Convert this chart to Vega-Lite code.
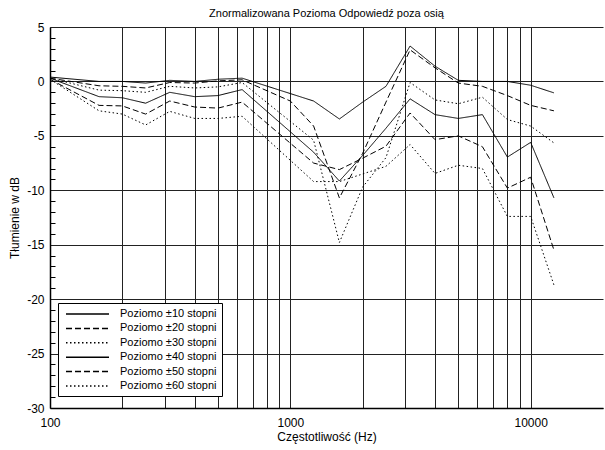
{
  "$schema": "https://vega.github.io/schema/vega-lite/v6.json",
  "autosize": {"type": "none"},
  "padding": {"left": 50, "top": 27, "right": 2, "bottom": 42},
  "width": 553,
  "height": 381,
  "background": "white",
  "view": {"stroke": null},
  "config": {
    "font": "Liberation Sans",
    "axis": {"labelColor": "black", "titleColor": "black", "labelFont": "Liberation Sans", "titleFont": "Liberation Sans", "titleFontWeight": "normal"}
  },
  "title": {"text": "Znormalizowana Pozioma Odpowiedź poza osią", "fontSize": 11, "fontWeight": "normal", "font": "Liberation Sans", "color": "black", "anchor": "middle", "offset": 2},
  "data": {"values": [
    {"f": 100, "s": "Poziomo ±10 stopni", "db": 0.4},
    {"f": 160, "s": "Poziomo ±10 stopni", "db": 0},
    {"f": 200, "s": "Poziomo ±10 stopni", "db": 0},
    {"f": 250, "s": "Poziomo ±10 stopni", "db": -0.15},
    {"f": 315, "s": "Poziomo ±10 stopni", "db": 0.1},
    {"f": 400, "s": "Poziomo ±10 stopni", "db": 0},
    {"f": 500, "s": "Poziomo ±10 stopni", "db": 0.2},
    {"f": 630, "s": "Poziomo ±10 stopni", "db": 0.3},
    {"f": 1250, "s": "Poziomo ±10 stopni", "db": -1.8},
    {"f": 1600, "s": "Poziomo ±10 stopni", "db": -3.45},
    {"f": 2000, "s": "Poziomo ±10 stopni", "db": -1.9},
    {"f": 2500, "s": "Poziomo ±10 stopni", "db": -0.45},
    {"f": 3150, "s": "Poziomo ±10 stopni", "db": 3.25},
    {"f": 4000, "s": "Poziomo ±10 stopni", "db": 1.4},
    {"f": 5000, "s": "Poziomo ±10 stopni", "db": 0.1},
    {"f": 6300, "s": "Poziomo ±10 stopni", "db": 0},
    {"f": 8000, "s": "Poziomo ±10 stopni", "db": 0},
    {"f": 10000, "s": "Poziomo ±10 stopni", "db": -0.35},
    {"f": 12500, "s": "Poziomo ±10 stopni", "db": -1.05},

    {"f": 100, "s": "Poziomo ±20 stopni", "db": 0.3},
    {"f": 160, "s": "Poziomo ±20 stopni", "db": -0.4},
    {"f": 200, "s": "Poziomo ±20 stopni", "db": -0.45},
    {"f": 250, "s": "Poziomo ±20 stopni", "db": -0.6},
    {"f": 315, "s": "Poziomo ±20 stopni", "db": -0.1},
    {"f": 400, "s": "Poziomo ±20 stopni", "db": -0.15},
    {"f": 500, "s": "Poziomo ±20 stopni", "db": 0.05},
    {"f": 630, "s": "Poziomo ±20 stopni", "db": 0.15},
    {"f": 1000, "s": "Poziomo ±20 stopni", "db": -1.8},
    {"f": 1250, "s": "Poziomo ±20 stopni", "db": -4.1},
    {"f": 1600, "s": "Poziomo ±20 stopni", "db": -10.7},
    {"f": 2000, "s": "Poziomo ±20 stopni", "db": -6.6},
    {"f": 2500, "s": "Poziomo ±20 stopni", "db": -1.9},
    {"f": 3150, "s": "Poziomo ±20 stopni", "db": 2.9},
    {"f": 4000, "s": "Poziomo ±20 stopni", "db": 1.25},
    {"f": 5000, "s": "Poziomo ±20 stopni", "db": -0.15},
    {"f": 6300, "s": "Poziomo ±20 stopni", "db": -0.45},
    {"f": 8000, "s": "Poziomo ±20 stopni", "db": -1.3},
    {"f": 10000, "s": "Poziomo ±20 stopni", "db": -2.2},
    {"f": 12500, "s": "Poziomo ±20 stopni", "db": -2.7},

    {"f": 100, "s": "Poziomo ±30 stopni", "db": 0.3},
    {"f": 160, "s": "Poziomo ±30 stopni", "db": -0.8},
    {"f": 200, "s": "Poziomo ±30 stopni", "db": -0.85},
    {"f": 250, "s": "Poziomo ±30 stopni", "db": -1.0},
    {"f": 315, "s": "Poziomo ±30 stopni", "db": -0.45},
    {"f": 400, "s": "Poziomo ±30 stopni", "db": -0.6},
    {"f": 500, "s": "Poziomo ±30 stopni", "db": -0.5},
    {"f": 630, "s": "Poziomo ±30 stopni", "db": -0.1},
    {"f": 1250, "s": "Poziomo ±30 stopni", "db": -5.4},
    {"f": 1600, "s": "Poziomo ±30 stopni", "db": -14.8},
    {"f": 2000, "s": "Poziomo ±30 stopni", "db": -9.7},
    {"f": 2500, "s": "Poziomo ±30 stopni", "db": -7.0},
    {"f": 3150, "s": "Poziomo ±30 stopni", "db": -0.1},
    {"f": 4000, "s": "Poziomo ±30 stopni", "db": -1.7},
    {"f": 5000, "s": "Poziomo ±30 stopni", "db": -2.05},
    {"f": 6300, "s": "Poziomo ±30 stopni", "db": -1.45},
    {"f": 8000, "s": "Poziomo ±30 stopni", "db": -3.5},
    {"f": 10000, "s": "Poziomo ±30 stopni", "db": -4.1},
    {"f": 12500, "s": "Poziomo ±30 stopni", "db": -5.65},

    {"f": 100, "s": "Poziomo ±40 stopni", "db": 0.3},
    {"f": 160, "s": "Poziomo ±40 stopni", "db": -1.4},
    {"f": 200, "s": "Poziomo ±40 stopni", "db": -1.5},
    {"f": 250, "s": "Poziomo ±40 stopni", "db": -2.0},
    {"f": 315, "s": "Poziomo ±40 stopni", "db": -1.0},
    {"f": 400, "s": "Poziomo ±40 stopni", "db": -1.4},
    {"f": 500, "s": "Poziomo ±40 stopni", "db": -1.3},
    {"f": 630, "s": "Poziomo ±40 stopni", "db": -0.75},
    {"f": 1250, "s": "Poziomo ±40 stopni", "db": -6.5},
    {"f": 1600, "s": "Poziomo ±40 stopni", "db": -9.15},
    {"f": 2000, "s": "Poziomo ±40 stopni", "db": -6.8},
    {"f": 2500, "s": "Poziomo ±40 stopni", "db": -4.3},
    {"f": 3150, "s": "Poziomo ±40 stopni", "db": -1.6},
    {"f": 4000, "s": "Poziomo ±40 stopni", "db": -3.05},
    {"f": 5000, "s": "Poziomo ±40 stopni", "db": -3.4},
    {"f": 6300, "s": "Poziomo ±40 stopni", "db": -3.05},
    {"f": 8000, "s": "Poziomo ±40 stopni", "db": -6.95},
    {"f": 10000, "s": "Poziomo ±40 stopni", "db": -5.6},
    {"f": 12500, "s": "Poziomo ±40 stopni", "db": -10.7},

    {"f": 100, "s": "Poziomo ±50 stopni", "db": 0.2},
    {"f": 160, "s": "Poziomo ±50 stopni", "db": -2.2},
    {"f": 200, "s": "Poziomo ±50 stopni", "db": -2.25},
    {"f": 250, "s": "Poziomo ±50 stopni", "db": -3.0},
    {"f": 315, "s": "Poziomo ±50 stopni", "db": -1.8},
    {"f": 400, "s": "Poziomo ±50 stopni", "db": -2.35},
    {"f": 500, "s": "Poziomo ±50 stopni", "db": -2.45},
    {"f": 630, "s": "Poziomo ±50 stopni", "db": -1.9},
    {"f": 1250, "s": "Poziomo ±50 stopni", "db": -7.5},
    {"f": 1600, "s": "Poziomo ±50 stopni", "db": -8.1},
    {"f": 2000, "s": "Poziomo ±50 stopni", "db": -7.05},
    {"f": 2500, "s": "Poziomo ±50 stopni", "db": -5.95},
    {"f": 3150, "s": "Poziomo ±50 stopni", "db": -2.9},
    {"f": 4000, "s": "Poziomo ±50 stopni", "db": -5.35},
    {"f": 5000, "s": "Poziomo ±50 stopni", "db": -5.0},
    {"f": 6300, "s": "Poziomo ±50 stopni", "db": -6.0},
    {"f": 8000, "s": "Poziomo ±50 stopni", "db": -9.8},
    {"f": 10000, "s": "Poziomo ±50 stopni", "db": -8.8},
    {"f": 12500, "s": "Poziomo ±50 stopni", "db": -15.5},

    {"f": 100, "s": "Poziomo ±60 stopni", "db": 0.2},
    {"f": 160, "s": "Poziomo ±60 stopni", "db": -2.7},
    {"f": 200, "s": "Poziomo ±60 stopni", "db": -3.0},
    {"f": 250, "s": "Poziomo ±60 stopni", "db": -4.0},
    {"f": 315, "s": "Poziomo ±60 stopni", "db": -2.75},
    {"f": 400, "s": "Poziomo ±60 stopni", "db": -3.4},
    {"f": 500, "s": "Poziomo ±60 stopni", "db": -3.4},
    {"f": 630, "s": "Poziomo ±60 stopni", "db": -3.2},
    {"f": 1250, "s": "Poziomo ±60 stopni", "db": -9.2},
    {"f": 1600, "s": "Poziomo ±60 stopni", "db": -9.2},
    {"f": 2000, "s": "Poziomo ±60 stopni", "db": -8.5},
    {"f": 2500, "s": "Poziomo ±60 stopni", "db": -7.8},
    {"f": 3150, "s": "Poziomo ±60 stopni", "db": -5.8},
    {"f": 4000, "s": "Poziomo ±60 stopni", "db": -8.45},
    {"f": 5000, "s": "Poziomo ±60 stopni", "db": -7.7},
    {"f": 6300, "s": "Poziomo ±60 stopni", "db": -8.0},
    {"f": 8000, "s": "Poziomo ±60 stopni", "db": -12.4},
    {"f": 10000, "s": "Poziomo ±60 stopni", "db": -12.4},
    {"f": 12500, "s": "Poziomo ±60 stopni", "db": -18.7}
  ]},
  "resolve": {"axis": {"y": "independent"}},
  "layer": [
    {
      "mark": {"type": "line", "stroke": "black", "strokeWidth": 1, "clip": true},
      "encoding": {
        "x": {"field": "f", "type": "quantitative",
          "scale": {"type": "log", "domain": [100, 20000], "nice": false},
          "axis": {"values": [100,200,300,400,500,600,700,800,900,1000,2000,3000,4000,5000,6000,7000,8000,9000,10000],
            "labelExpr": "(datum.value == 100 || datum.value == 1000 || datum.value == 10000) ? '' + datum.value : ''",
            "grid": true, "gridColor": "#222", "gridWidth": 1, "gridOpacity": 1,
            "ticks": false, "domainColor": "black", "domainWidth": 1.5,
            "labelFontSize": 12, "labelPadding": 9, "labelFlush": false, "labelOverlap": false,
            "title": "Częstotliwość (Hz)", "titleFontSize": 12, "titlePadding": 3}},
        "y": {"field": "db", "type": "quantitative",
          "scale": {"domain": [-30, 5], "nice": false, "zero": false},
          "axis": {"values": [-30,-25,-20,-15,-10,-5,0,5],
            "labelExpr": "'' + datum.value",
            "grid": true, "gridColor": "#222", "gridWidth": 1, "gridOpacity": 1,
            "ticks": false, "domainColor": "black", "domainWidth": 1.5,
            "labelFontSize": 12, "labelPadding": 6,
            "title": "Tłumienie w dB", "titleFontSize": 12, "titlePadding": 5}},
        "strokeDash": {"field": "s", "type": "nominal",
          "scale": {"domain": ["Poziomo ±10 stopni","Poziomo ±20 stopni","Poziomo ±30 stopni","Poziomo ±40 stopni","Poziomo ±50 stopni","Poziomo ±60 stopni"],
            "range": [[1,0],[6,3],[1.5,2.5],[1,0],[6,3],[1.5,2.5]]},
          "legend": {"orient": "none", "legendX": 8, "legendY": 276, "title": null,
            "strokeColor": "black", "fillColor": "white", "padding": 5, "cornerRadius": 0,
            "symbolType": "M0,0H8.6", "symbolSize": 100, "symbolStrokeWidth": 1.5, "symbolStrokeColor": "black",
            "symbolOffset": -3, "labelOffset": 48, "labelFontSize": 11, "labelFont": "Liberation Sans", "labelColor": "black",
            "labelExpr": "datum.label + '\u2007\u2007\u2007\u2007'",
            "rowPadding": 3.4, "labelLimit": 300}}
      }
    },
    {
      "mark": {"type": "line", "strokeOpacity": 0},
      "encoding": {
        "x": {"field": "f", "type": "quantitative"},
        "y": {"field": "db", "type": "quantitative",
          "axis": {"orient": "left", "values": [-29,-28,-27,-26,-24,-23,-22,-21,-19,-18,-17,-16,-14,-13,-12,-11,-9,-8,-7,-6,-4,-3,-2,-1,1,2,3,4],
            "labels": false, "grid": false, "domain": false, "ticks": true, "tickSize": 5, "tickColor": "black", "tickWidth": 1,
            "offset": -5, "title": null}},
        "detail": {"field": "s", "type": "nominal"}
      }
    }
  ]
}
